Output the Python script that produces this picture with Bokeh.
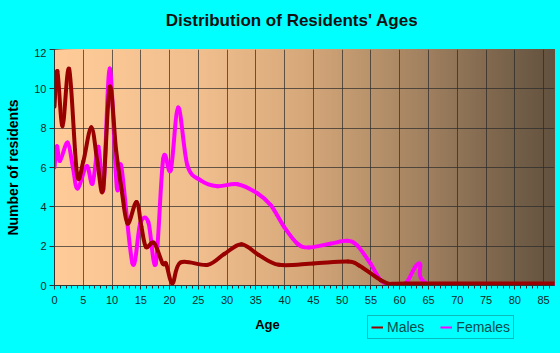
from bokeh.plotting import figure
from bokeh.models import Range1d, SingleIntervalTicker, Label, Legend, LegendItem
from bokeh.layouts import column
from bokeh.embed import file_html
from bokeh.resources import INLINE
import numpy as np

# ---- data ----
male_age = [0, 0.5, 1.4, 2.55, 3.9, 5.0, 6.4, 7.5, 8.45, 9.6, 10.7, 11.7, 12.7, 14.25,
            15.1, 15.9, 17.3, 18.8, 19.4, 20.5, 21.9, 26.6, 29.5, 32.5, 35.5, 39, 45, 51,
            53, 56.7, 58.5, 61, 87]
males = [9.1, 10.9, 8.1, 11.0, 5.7, 6.3, 8.05, 6.2, 4.9, 10.1, 6.9, 4.8, 3.15, 4.25,
         3.0, 1.96, 2.17, 1.12, 1.1, 0.1, 1.17, 1.05, 1.6, 2.1, 1.55, 1.05, 1.12, 1.22,
         1.0, 0.27, 0.05, 0.1, 0.1]

female_age = [0, 0.42, 0.94, 2.27, 3.2, 4.0, 5.6, 6.6, 7.65, 8.5, 9.6, 10.83, 11.6, 13.56,
              14.9, 16.3, 17.6, 18.9, 20.2, 21.5, 23.1, 25.4, 28.3, 31.8, 35.3, 37.6, 39.9,
              42.2, 44.2, 48, 50.9, 52.6, 54.9, 56.7, 58.5, 61, 63.4, 65.9, 87]
females = [6.0, 7.08, 6.33, 7.27, 6.0, 4.93, 6.07, 5.18, 7.05, 4.9, 11.03, 5.0, 6.07, 1.12,
           3.15, 3.23, 1.12, 6.45, 5.86, 9.05, 6.1, 5.35, 5.05, 5.15, 4.68, 4.08, 2.98,
           2.13, 1.93, 2.13, 2.27, 2.04, 1.12, 0.27, 0.0, 0.1, 1.12, 0.0, 0.0]

series_names = ["Males", "Females"]
series_colors = ["#990000", "#FF00FF"]
title_text = "Distribution of Residents' Ages"
x_label = "Age"
y_label = "Number of residents"

X_MAX = 86.9
Y_MAX = 12
BG = "#00FFFF"
LEFT, RIGHT = 54, 6
W = 560


def strip(height):
    # a text strip whose frame lines up with the chart's frame; x in page pixels
    f = figure(frame_width=W - LEFT - RIGHT, frame_height=height,
               min_border_left=LEFT, min_border_right=RIGHT, min_border_top=0,
               min_border_bottom=0, x_range=Range1d(LEFT, W - RIGHT),
               y_range=Range1d(height, 0), x_axis_location=None, y_axis_location=None,
               output_backend="svg", toolbar_location=None)
    f.grid.visible = False
    f.outline_line_color = None
    f.background_fill_color = None
    f.border_fill_color = None
    return f


# ---- top strip with the title ----
p_top = strip(48)
p_top.add_layout(Label(x=291.5, y=20, text=title_text, text_font="Liberation Sans",
                       text_font_style="bold", text_font_size="17px", text_color="#111111",
                       text_align="center", text_baseline="middle"))

# ---- main chart ----
p = figure(frame_width=W - LEFT - RIGHT, frame_height=236, min_border_left=LEFT,
           min_border_right=RIGHT, min_border_top=1, min_border_bottom=25,
           x_range=Range1d(0, X_MAX), y_range=Range1d(0, Y_MAX),
           output_backend="svg", toolbar_location=None)
p.border_fill_color = None
p.background_fill_color = None
p.outline_line_color = "#333333"
p.outline_line_width = 1

# gradient background (style only)
stops_t = [0.0, 0.3, 0.5, 0.7, 1.0]
stops_c = [(255, 204, 153), (240, 190, 141), (214, 168, 122), (170, 136, 101), (98, 82, 63)]
n = 250
edges = np.linspace(0, X_MAX, n + 1)
mids = (np.arange(n) + 0.5) / n
cols = []
for t in mids:
    r = int(np.interp(t, stops_t, [c[0] for c in stops_c]))
    g = int(np.interp(t, stops_t, [c[1] for c in stops_c]))
    b = int(np.interp(t, stops_t, [c[2] for c in stops_c]))
    cols.append("#%02x%02x%02x" % (r, g, b))
p.quad(left=edges[:-1], right=X_MAX, bottom=0, top=Y_MAX, fill_color=cols,
       fill_alpha=1.0, line_color=None, level="image")

# grid
p.xgrid.ticker = SingleIntervalTicker(interval=5)
p.ygrid.ticker = SingleIntervalTicker(interval=2)
for g in (p.xgrid, p.ygrid):
    g.grid_line_color = "#2a2a2a"
    g.grid_line_alpha = 0.7
    g.grid_line_width = 1
    g.level = "underlay"

# axes
p.xaxis.ticker = SingleIntervalTicker(interval=5, num_minor_ticks=5)
p.yaxis.ticker = SingleIntervalTicker(interval=2)
for ax in (p.xaxis, p.yaxis):
    ax.axis_line_color = "#333333"
    ax.major_tick_line_color = "#333333"
    ax.minor_tick_line_color = "#333333"
    ax.major_label_text_font = "Liberation Sans"
    ax.major_label_text_font_size = "11px"
    ax.major_label_text_color = "#102a2a"
    ax.major_tick_in = 0
    ax.minor_tick_in = 0
p.xaxis.major_tick_out = 4
p.xaxis.minor_tick_out = 3
p.xaxis.major_label_standoff = 6
p.yaxis.major_tick_out = 5
p.yaxis.minor_tick_line_color = None
p.yaxis.major_label_standoff = 3
p.yaxis.axis_label = y_label
p.yaxis.axis_label_text_font = "Liberation Sans"
p.yaxis.axis_label_text_font_style = "bold"
p.yaxis.axis_label_text_font_size = "14px"
p.yaxis.axis_label_text_color = "#000000"
p.yaxis.axis_label_standoff = 10


def bezier_parts(xs, ys):
    xs = np.asarray(xs, float)
    ys = np.asarray(ys, float)
    m = len(xs)
    x0, y0, x1, y1, cx0, cy0, cx1, cy1 = [], [], [], [], [], [], [], []
    for i in range(m - 1):
        pxm = xs[i - 1] if i > 0 else xs[i]
        pym = ys[i - 1] if i > 0 else ys[i]
        pxp = xs[i + 2] if i + 2 < m else xs[i + 1]
        pyp = ys[i + 2] if i + 2 < m else ys[i + 1]
        x0.append(xs[i]); y0.append(ys[i]); x1.append(xs[i + 1]); y1.append(ys[i + 1])
        cx0.append(xs[i] + (xs[i + 1] - pxm) / 6)
        cy0.append(ys[i] + (ys[i + 1] - pym) / 6)
        cx1.append(xs[i + 1] - (pxp - xs[i]) / 6)
        cy1.append(ys[i + 1] - (pyp - ys[i]) / 6)
    return dict(x0=x0, y0=y0, x1=x1, y1=y1, cx0=cx0, cy0=cy0, cx1=cx1, cy1=cy1)


for name, xs, ys, col in ((series_names[1], female_age, females, series_colors[1]),
                          (series_names[0], male_age, males, series_colors[0])):
    p.bezier(line_color=col, line_width=4, line_cap="round", **bezier_parts(xs, ys))

# ---- bottom strip with x label and legend ----
p_bot = strip(43)
p_bot.add_layout(Label(x=267, y=14, text=x_label, text_font="Liberation Sans",
                       text_font_style="bold", text_font_size="13px", text_color="#000000",
                       text_align="center", text_baseline="middle"))
items = []
for nm, col in zip(series_names, series_colors):
    # legend proxy renderer (no visible data of its own)
    r = p_bot.line(x=np.array([np.nan, np.nan]), y=np.array([np.nan, np.nan]),
                   line_color=col, line_width=2)
    items.append(LegendItem(label=nm, renderers=[r], index=0))
legend = Legend(items=items, location=(367 - LEFT, 14), orientation="horizontal")
legend.background_fill_alpha = 0
legend.border_line_color = "#117777"
legend.border_line_width = 1
legend.label_text_font = "Liberation Sans"
legend.label_text_font_size = "14px"
legend.label_text_color = "#0a4d4d"
legend.glyph_width = 12
legend.glyph_height = 10
legend.padding = 3
legend.spacing = 16
legend.margin = 0
legend.label_standoff = 4
legend.label_height = 15
p_bot.add_layout(legend, "center")

layout = column(p_top, p, p_bot, spacing=0)
layout.styles = {"background-color": BG}

open("out.html", "w").write(file_html(layout, INLINE))
